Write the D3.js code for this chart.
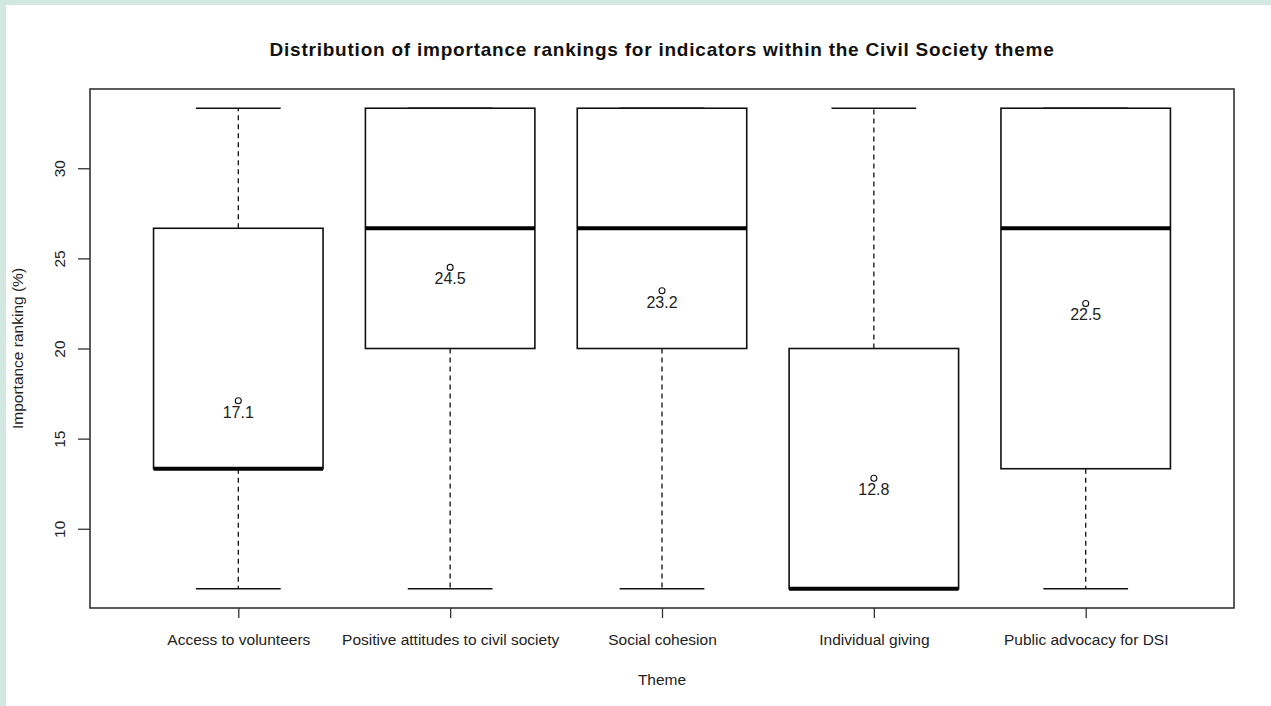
<!DOCTYPE html>
<html>
<head>
<meta charset="utf-8">
<script src="https://cdn.jsdelivr.net/npm/d3@7"></script>
<style>
  html, body { margin: 0; padding: 0; background: #d3e8e0; }
  #chart { position: absolute; left: 6px; top: 5px; }
  text { font-family: "Liberation Sans", Arial, sans-serif; fill: #222; }
</style>
</head>
<body>
<div id="chart"></div>
<script>
// ---------- data ----------
const categories = ['Access to volunteers', 'Positive attitudes to civil society', 'Social cohesion', 'Individual giving', 'Public advocacy for DSI'];
const lowerWhisker = [6.67, 6.67, 6.67, 6.67, 6.67];
const q1 = [13.33, 20, 20, 6.67, 13.33];
const median = [13.33, 26.67, 26.67, 6.67, 26.67];
const q3 = [26.67, 33.33, 33.33, 20, 33.33];
const upperWhisker = [33.33, 33.33, 33.33, 33.33, 33.33];
const means = [17.1, 24.5, 23.2, 12.8, 22.5];
const yTicks = [10, 15, 20, 25, 30];

const boxes = categories.map((c, i) => ({
  name: c, lo: lowerWhisker[i], q1: q1[i], med: median[i], q3: q3[i], hi: upperWhisker[i], mean: means[i]
}));

// offset of the svg inside the page (teal strip on the top/left)
const ox = 6, oy = 5;
const W = 1271 - ox, H = 706 - oy;
const plot = { left: 90 - ox, right: 1234 - ox, top: 89 - oy, bottom: 608 - oy };

const svg = d3.select('#chart').append('svg')
  .attr('width', W).attr('height', H)
  .style('background', '#fff');

// R-style 4% expansion of the data range
const ymin = d3.min(lowerWhisker), ymax = d3.max(upperWhisker);
const pad = (ymax - ymin) * 0.04;
const y = d3.scaleLinear().domain([ymin - pad, ymax + pad]).range([plot.bottom, plot.top]);
const x = d3.scalePoint().domain(categories).range([plot.left, plot.right]).padding(0.7);
const step = x.step();
const boxW = step * 0.8;
const capW = boxW * 0.5;

// ---------- boxes ----------
const g = svg.append('g');
const box = g.selectAll('g.box').data(boxes).join('g').attr('class', 'box');

// whiskers (dashed)
box.append('line')
  .attr('x1', d => x(d.name)).attr('x2', d => x(d.name))
  .attr('y1', d => y(d.q3)).attr('y2', d => y(d.hi))
  .attr('stroke', '#111').attr('stroke-width', 1.3).attr('stroke-dasharray', '5,4');
box.append('line')
  .attr('x1', d => x(d.name)).attr('x2', d => x(d.name))
  .attr('y1', d => y(d.q1)).attr('y2', d => y(d.lo))
  .attr('stroke', '#111').attr('stroke-width', 1.3).attr('stroke-dasharray', '5,4');

// caps
['lo', 'hi'].forEach(k => {
  box.append('line')
    .attr('x1', d => x(d.name) - capW / 2).attr('x2', d => x(d.name) + capW / 2)
    .attr('y1', d => y(d[k])).attr('y2', d => y(d[k]))
    .attr('stroke', '#111').attr('stroke-width', 1.5);
});

// box body
box.append('rect')
  .attr('x', d => x(d.name) - boxW / 2)
  .attr('y', d => y(d.q3))
  .attr('width', boxW)
  .attr('height', d => y(d.q1) - y(d.q3))
  .attr('fill', '#fff')
  .attr('stroke', '#111').attr('stroke-width', 1.6);

// median
box.append('line')
  .attr('x1', d => x(d.name) - boxW / 2).attr('x2', d => x(d.name) + boxW / 2)
  .attr('y1', d => y(d.med)).attr('y2', d => y(d.med))
  .attr('stroke', '#000').attr('stroke-width', 4);

// mean markers + labels
box.append('circle')
  .attr('cx', d => x(d.name)).attr('cy', d => y(d.mean))
  .attr('r', 3).attr('fill', 'none').attr('stroke', '#111').attr('stroke-width', 1.1);
box.append('text')
  .attr('x', d => x(d.name)).attr('y', d => y(d.mean) + 17)
  .attr('text-anchor', 'middle')
  .style('font-size', '16px')
  .text(d => d.mean.toFixed(1));

// ---------- frame ----------
svg.append('rect')
  .attr('x', plot.left).attr('y', plot.top)
  .attr('width', plot.right - plot.left).attr('height', plot.bottom - plot.top)
  .attr('fill', 'none').attr('stroke', '#333').attr('stroke-width', 1.6);

// ---------- axes ----------
const yAxis = svg.append('g')
  .attr('transform', `translate(${plot.left},0)`)
  .call(d3.axisLeft(y).tickValues(yTicks).tickSize(12).tickPadding(0));
yAxis.select('.domain').remove();
yAxis.selectAll('.tick line').attr('stroke', '#333').attr('stroke-width', 1.3);
yAxis.selectAll('.tick text')
  .attr('x', 0).attr('dy', null)
  .attr('transform', 'translate(-25,0) rotate(-90)')
  .attr('text-anchor', 'middle')
  .style('font-size', '15.5px').style('fill', '#222');

const xAxis = svg.append('g')
  .attr('transform', `translate(0,${plot.bottom})`)
  .call(d3.axisBottom(x).tickSize(10).tickPadding(0));
xAxis.select('.domain').remove();
xAxis.selectAll('.tick line').attr('stroke', '#333').attr('stroke-width', 1.3);
xAxis.selectAll('.tick text')
  .attr('y', 37).attr('dy', null)
  .style('font-size', '15.5px').style('fill', '#222');

// ---------- titles ----------
const title = svg.append('text')
  .attr('x', (plot.left + plot.right) / 2).attr('y', 56 - oy)
  .attr('text-anchor', 'middle')
  .style('font-size', '19px').style('font-weight', 'bold').style('fill', '#111')
  .text('Distribution of importance rankings for indicators within the Civil Society theme');
// the reference title is a little wider than the font gives; spread it out
const titleText = title.text();
const extra = 785 - title.node().getComputedTextLength();
if (extra > 0) title.style('letter-spacing', (extra / titleText.length) + 'px');

svg.append('text')
  .attr('x', (plot.left + plot.right) / 2).attr('y', 685 - oy)
  .attr('text-anchor', 'middle')
  .style('font-size', '15.5px')
  .text('Theme');

svg.append('text')
  .attr('transform', `translate(${23 - ox},${(plot.top + plot.bottom) / 2}) rotate(-90)`)
  .attr('text-anchor', 'middle')
  .style('font-size', '15.5px')
  .text('Importance ranking (%)');
</script>
</body>
</html>
